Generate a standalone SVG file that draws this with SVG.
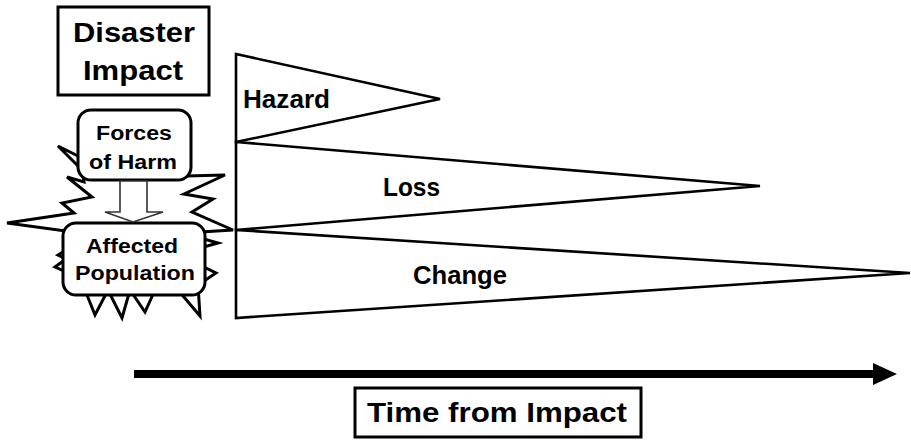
<svg xmlns="http://www.w3.org/2000/svg" width="911" height="440" viewBox="0 0 911 440">
<style>
.t{font-family:"Liberation Sans",Arial,sans-serif;font-weight:bold;fill:#000;text-anchor:middle}
.box{fill:#fff;stroke:#000;stroke-width:3}
.tri{fill:#fff;stroke:#000;stroke-width:2.6;stroke-linejoin:miter}
</style>
<rect width="911" height="440" fill="#fff"/>
<g id="title">
<rect class="box" x="58" y="7" width="151" height="88"/>
<text class="t" x="134" y="42" font-size="28" textLength="122" lengthAdjust="spacingAndGlyphs">Disaster</text>
<text class="t" x="133" y="80" font-size="28" textLength="100" lengthAdjust="spacingAndGlyphs">Impact</text>
</g>
<g id="burst">
<polygon fill="#fff" stroke="#000" stroke-width="3" stroke-linejoin="miter" points="82,158 58,146 82,170 84,182 67,177 92,197 62,203 74,213 7,223 66,231 66,250 58,255 66,259 55,267 66,272 85,290 95,315 108,290 122,318 130,290 145,312 155,290 178,290 200,316 198,285 216,273 200,265 200,248 218,243 200,238 201,232 233,230 192,212 213,199 184,194 225,175 186,176"/>
</g>
<g id="forces">
<rect class="box" x="78" y="110" width="113" height="70" rx="13"/>
<text class="t" x="134" y="140" font-size="20" textLength="76" lengthAdjust="spacingAndGlyphs">Forces</text>
<text class="t" x="133" y="169" font-size="20" textLength="88" lengthAdjust="spacingAndGlyphs">of Harm</text>
</g>
<g id="affected">
<rect class="box" x="63" y="223" width="142" height="72" rx="13"/>
<text class="t" x="132" y="253" font-size="21" textLength="92" lengthAdjust="spacingAndGlyphs">Affected</text>
<text class="t" x="135" y="280" font-size="21" textLength="120" lengthAdjust="spacingAndGlyphs">Population</text>
</g>
<g id="connectors">
<polygon fill="#fff" stroke="#333" stroke-width="1.6" points="120,181 147,181 147,212 163,212 133,222 105,212 120,212"/>
<rect x="134" y="370" width="741" height="8" fill="#000"/>
<polygon fill="#000" points="873,363 897,374 873,385"/>
</g>
<g id="hazard">
<polygon class="tri" points="236,54 440,99 236,142"/>
<text class="t" x="286.5" y="108" font-size="25" textLength="87" lengthAdjust="spacingAndGlyphs">Hazard</text>
</g>
<g id="loss">
<polygon class="tri" points="236,142 760,186 236,230"/>
<text class="t" x="411.5" y="196" font-size="25" textLength="57" lengthAdjust="spacingAndGlyphs">Loss</text>
</g>
<g id="change">
<polygon class="tri" points="236,230 910,273 236,318"/>
<text class="t" x="460" y="284" font-size="25" textLength="94" lengthAdjust="spacingAndGlyphs">Change</text>
</g>
<g id="time">
<rect class="box" x="355" y="388" width="286" height="49"/>
<text class="t" x="497" y="422" font-size="27" textLength="260" lengthAdjust="spacingAndGlyphs">Time from Impact</text>
</g>
</svg>
